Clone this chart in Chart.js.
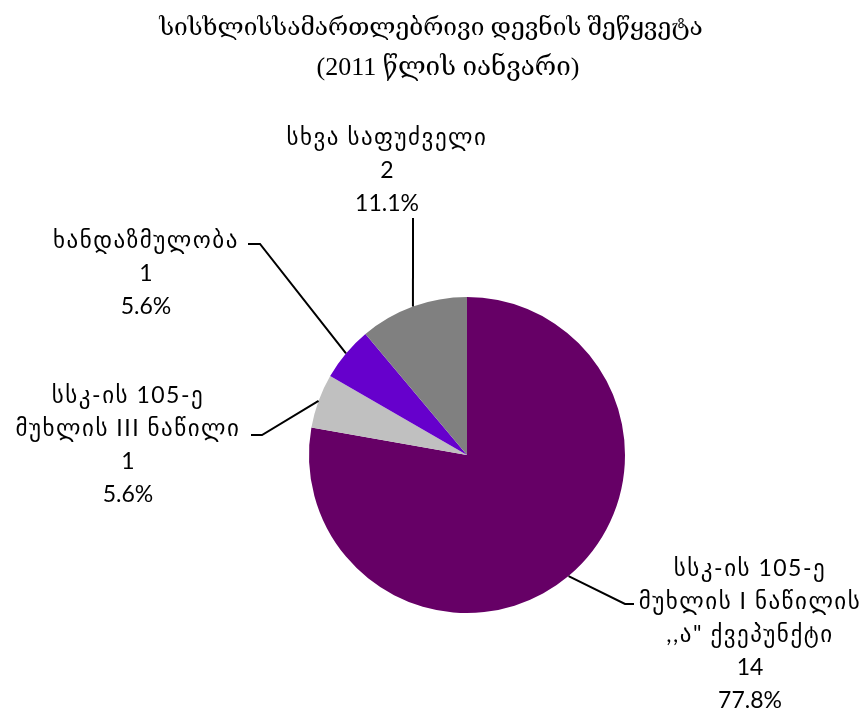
<!DOCTYPE html>
<html>
<head>
<meta charset="utf-8">
<script src="https://cdn.jsdelivr.net/npm/chart.js@4/dist/chart.umd.min.js"></script>
<style>
  html, body { margin: 0; padding: 0; background: #fff; }
  #wrap { width: 867px; height: 713px; position: relative; }
</style>
</head>
<body>
<div id="wrap"><canvas id="pie" width="867" height="713"></canvas></div>
<script>
// chart data
const titleLines = ["სისხლისსამართლებრივი დევნის შეწყვეტა", "(2011 წლის იანვარი)"];
const categories = [
  ["სსკ-ის 105-ე", "მუხლის I ნაწილის", ",,ა\" ქვეპუნქტი"],
  ["სსკ-ის 105-ე", "მუხლის III ნაწილი"],
  ["ხანდაზმულობა"],
  ["სხვა საფუძველი"]
];
const counts = [14, 1, 1, 2];
const colors = ["#660066", "#C0C0C0", "#6600CC", "#808080"];

// where each label sits + elbow of its leader line
const labelLayout = [
  { x: 750, y: 569, elbow: [625, 604], end: [634, 604] },
  { x: 128, y: 396, elbow: [262, 435], end: [251, 435] },
  { x: 146, y: 241, elbow: [260, 244], end: [248, 244] },
  { x: 387, y: 138, elbow: null, end: [413, 218] }
];
const lineGap = 33;
const labelFont = "23px Lato, 'DejaVu Sans', sans-serif";

const total = counts.reduce((a, b) => a + b, 0);

const labelPlugin = {
  id: "pieLabels",
  afterDraw(chart) {
    const ctx = chart.ctx;
    const meta = chart.getDatasetMeta(0);
    ctx.save();

    // title
    ctx.fillStyle = "#000";
    ctx.textAlign = "center";
    ctx.textBaseline = "alphabetic";
    ctx.font = "24.5px 'Liberation Serif', 'DejaVu Serif', serif";
    ctx.fillText(titleLines[0], 431, 35);
    ctx.font = "26px 'Liberation Serif', 'DejaVu Serif', serif";
    ctx.fillText(titleLines[1], 448, 75);

    // leader lines
    ctx.strokeStyle = "#000";
    ctx.lineWidth = 2;
    meta.data.forEach((arc, i) => {
      const mid = (arc.startAngle + arc.endAngle) / 2;
      const sx = arc.x + Math.cos(mid) * arc.outerRadius;
      const sy = arc.y + Math.sin(mid) * arc.outerRadius;
      const lay = labelLayout[i];
      ctx.beginPath();
      ctx.moveTo(sx, sy);
      if (lay.elbow) ctx.lineTo(lay.elbow[0], lay.elbow[1]);
      ctx.lineTo(lay.end[0], lay.end[1]);
      ctx.stroke();
    });

    // label text
    ctx.font = labelFont;
    ctx.textBaseline = "middle";
    ctx.fillStyle = "#000";
    counts.forEach((v, i) => {
      const pct = (v / total * 100).toFixed(1) + "%";
      const lines = categories[i].concat([String(v), pct]);
      const lay = labelLayout[i];
      lines.forEach((t, k) => {
        // georgian glyphs from the fallback font run a little narrow
        ctx.letterSpacing = k < categories[i].length ? "1.5px" : "0px";
        ctx.fillText(t, lay.x, lay.y + k * lineGap);
      });
    });
    ctx.letterSpacing = "0px";
    ctx.restore();
  }
};

new Chart(document.getElementById("pie"), {
  type: "pie",
  data: {
    labels: categories,
    datasets: [{
      data: counts,
      backgroundColor: colors,
      borderWidth: 0
    }]
  },
  options: {
    responsive: false,
    animation: false,
    layout: { padding: { top: 297, bottom: 100, left: 267, right: 200 } },
    plugins: {
      legend: { display: false },
      tooltip: { enabled: false },
      title: { display: false }
    }
  },
  plugins: [labelPlugin]
});
</script>
</body>
</html>
